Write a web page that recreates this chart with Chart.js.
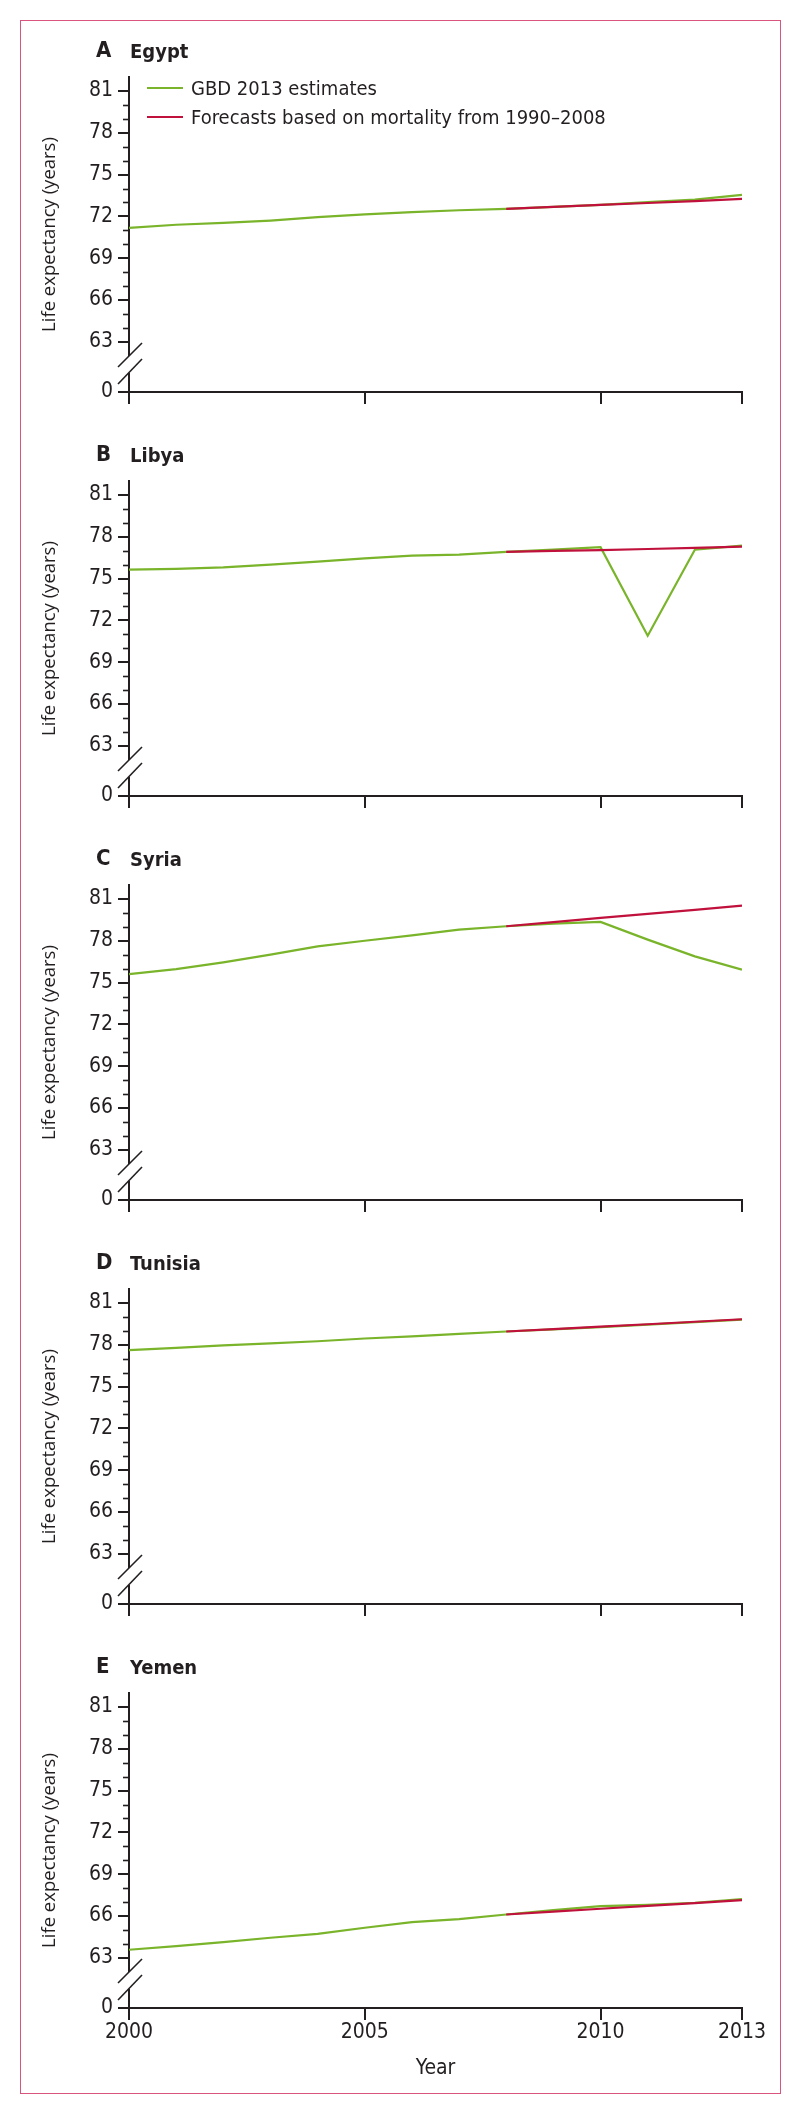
<!DOCTYPE html>
<html><head><meta charset="utf-8">
<script src="https://cdn.jsdelivr.net/npm/chart.js@4.4.1/dist/chart.umd.min.js"></script>
<style>
html,body{margin:0;padding:0;background:#fff;}
body{width:800px;height:2114px;position:relative;overflow:hidden;}
#frame{position:absolute;left:20px;top:20px;width:761px;height:2074px;border:1.5px solid #d9557d;box-sizing:border-box;}
.cv{position:absolute;left:0;width:800px;}
.txt{position:absolute;white-space:nowrap;color:#231f20;font-family:"Liberation Sans Narrow","DejaVu Sans Condensed","Arial Narrow",sans-serif;}
.swatch{position:absolute;height:2px;width:36px;left:147px;}
</style></head>
<body>
<div id="frame"></div>
<div id="root"></div>
<script>
// ---------------- data ----------------
const years = [2000,2001,2002,2003,2004,2005,2006,2007,2008,2009,2010,2011,2012,2013];
const forecastYears = [2008,2009,2010,2011,2012,2013];
const xTickValues = [2000,2005,2010,2013];
const yTickValues = [63,66,69,72,75,78,81];
const panelLetters = ['A','B','C','D','E'];
const countries = ['Egypt','Libya','Syria','Tunisia','Yemen'];
const legendLabels = ['GBD 2013 estimates','Forecasts based on mortality from 1990\u20132008'];
const xTitle = 'Year';
const yTitle = 'Life expectancy (years)';

const egyptGBD      = [71.17,71.40,71.53,71.70,71.94,72.15,72.30,72.44,72.54,72.68,72.82,73.02,73.20,73.54];
const egyptForecast = [72.54,72.68,72.82,72.96,73.10,73.25];
const libyaGBD      = [75.64,75.70,75.80,76.00,76.21,76.45,76.64,76.72,76.91,77.07,77.25,70.90,77.07,77.36];
const libyaForecast = [76.91,76.98,77.04,77.12,77.20,77.29];
const syriaGBD      = [75.61,75.97,76.45,77.00,77.60,78.00,78.39,78.80,79.04,79.23,79.35,78.08,76.88,75.93];
const syriaForecast = [79.04,79.33,79.64,79.93,80.22,80.52];
const tunisiaGBD      = [77.61,77.78,77.95,78.10,78.25,78.45,78.60,78.78,78.95,79.10,79.27,79.45,79.62,79.80];
const tunisiaForecast = [78.95,79.12,79.30,79.47,79.65,79.83];
const yemenGBD      = [63.58,63.84,64.13,64.44,64.72,65.16,65.56,65.78,66.11,66.42,66.71,66.80,66.95,67.21];
const yemenForecast = [66.11,66.32,66.52,66.73,66.93,67.14];

const gbdSeries = [egyptGBD, libyaGBD, syriaGBD, tunisiaGBD, yemenGBD];
const forecastSeries = [egyptForecast, libyaForecast, syriaForecast, tunisiaForecast, yemenForecast];

// ---------------- style ----------------
const GREEN = '#79b42a';
const RED = '#c0113c';
const AXIS = '#231f20';
const NARROW = '"Liberation Sans Narrow","DejaVu Sans Condensed","Arial Narrow",sans-serif';
const BREAK_POS = 59.4;   // axis position where the broken "0" tick is drawn
const Y_MAX = 82;

const PANEL_STEP = 404, FIRST_ZERO = 392, ZERO_IN_CANVAS = 370;

const breakPlugin = {
  id: 'axisBreak',
  afterDraw(chart) {
    const ctx = chart.ctx, y = chart.scales.y, L = chart.chartArea.left;
    const Z = y.getPixelForValue(y.min);
    ctx.save();
    ctx.strokeStyle = AXIS;
    ctx.lineWidth = 1.6;
    for (let v = yTickValues[0]; v <= yTickValues[yTickValues.length - 1]; v++) {
      if (yTickValues.includes(v)) continue;
      const p = Math.round(y.getPixelForValue(v)) + 0.5;
      ctx.beginPath(); ctx.moveTo(L - 6, p); ctx.lineTo(L, p); ctx.stroke();
    }
    ctx.fillStyle = '#fff';
    ctx.fillRect(L - 3, Z - 36, 6, 17);
    ctx.lineWidth = 1.6;
    ctx.beginPath(); ctx.moveTo(L - 11, Z - 25); ctx.lineTo(L + 13, Z - 49); ctx.stroke();
    ctx.beginPath(); ctx.moveTo(L - 11, Z - 8); ctx.lineTo(L + 13, Z - 33); ctx.stroke();
    ctx.restore();
  }
};

const root = document.getElementById('root');

function addText(text, left, top, size, weight, lh) {
  const d = document.createElement('div');
  d.className = 'txt';
  d.textContent = text;
  d.style.left = left + 'px';
  d.style.top = top + 'px';
  d.style.fontSize = size + 'px';
  d.style.fontWeight = weight;
  d.style.lineHeight = lh + 'px';
  root.appendChild(d);
}

countries.forEach((name, i) => {
  const isLast = i === countries.length - 1;
  const Z = FIRST_ZERO + PANEL_STEP * i;
  const top = Z - ZERO_IN_CANVAS;
  const h = isLast ? 476 : 404;
  const c = document.createElement('canvas');
  c.className = 'cv';
  c.width = 800; c.height = h;
  c.style.top = top + 'px';
  c.style.height = h + 'px';
  root.appendChild(c);

  // panel title
  addText(panelLetters[i], 96, Z - 356, 22, 'bold', 28);
  addText(name, 130, Z - 354, 20, 'bold', 26);

  if (i === 0) {
    [GREEN, RED].forEach((col, k) => {
      const cy = Z - 304 + k * 29;
      const s = document.createElement('div');
      s.className = 'swatch';
      s.style.background = col;
      s.style.top = (cy - 1) + 'px';
      root.appendChild(s);
      addText(legendLabels[k], 191, cy - 13, 20, 'normal', 26);
    });
  }

  new Chart(c, {
    type: 'line',
    data: {
      datasets: [
        { label: legendLabels[0], data: years.map((x, j) => ({x, y: gbdSeries[i][j]})),
          borderColor: GREEN, borderWidth: 2.2, pointRadius: 0, tension: 0, fill: false, order: 2 },
        { label: legendLabels[1], data: forecastYears.map((x, j) => ({x, y: forecastSeries[i][j]})),
          borderColor: RED, borderWidth: 2.2, pointRadius: 0, tension: 0, fill: false, order: 1 }
      ]
    },
    options: {
      responsive: false,
      animation: false,
      layout: { padding: { left: 30, right: 58, top: 55, bottom: 0 } },
      plugins: { legend: { display: false }, tooltip: { enabled: false } },
      scales: {
        x: {
          type: 'linear', min: 2000, max: 2013,
          afterBuildTicks: s => { s.ticks = xTickValues.map(v => ({value: v})); },
          afterFit: s => { s.height = isLast ? 106 : 34; },
          border: { display: true, color: AXIS, width: 2 },
          grid: { display: true, drawOnChartArea: false, drawTicks: true, tickLength: 12, tickWidth: 2, tickColor: AXIS, color: AXIS, lineWidth: 2 },
          ticks: { display: isLast, color: AXIS, font: { family: NARROW, size: 21 }, padding: 0, maxRotation: 0, autoSkip: false,
                   callback: v => String(v) },
          title: { display: isLast, text: xTitle, color: AXIS, font: { family: NARROW, size: 21 }, padding: { top: 0, bottom: 33 } }
        },
        y: {
          type: 'linear', min: BREAK_POS, max: Y_MAX,
          afterBuildTicks: s => { s.ticks = [BREAK_POS].concat(yTickValues).map(v => ({value: v})); },
          afterFit: s => { s.width = 99; },
          border: { display: true, color: AXIS, width: 2 },
          grid: { display: true, drawOnChartArea: false, drawTicks: true, tickLength: 11, tickWidth: 2, tickColor: AXIS, color: AXIS, lineWidth: 2 },
          ticks: { color: AXIS, font: { family: NARROW, size: 21 }, padding: 5, autoSkip: false,
                   callback: v => (v === BREAK_POS ? '0' : String(v)) },
          title: { display: true, text: yTitle, color: AXIS, font: { family: '"Open Sans",sans-serif', size: 18.5 }, padding: { top: 9, bottom: 0 } }
        }
      }
    },
    plugins: [breakPlugin]
  });
});
</script>
</body></html>
